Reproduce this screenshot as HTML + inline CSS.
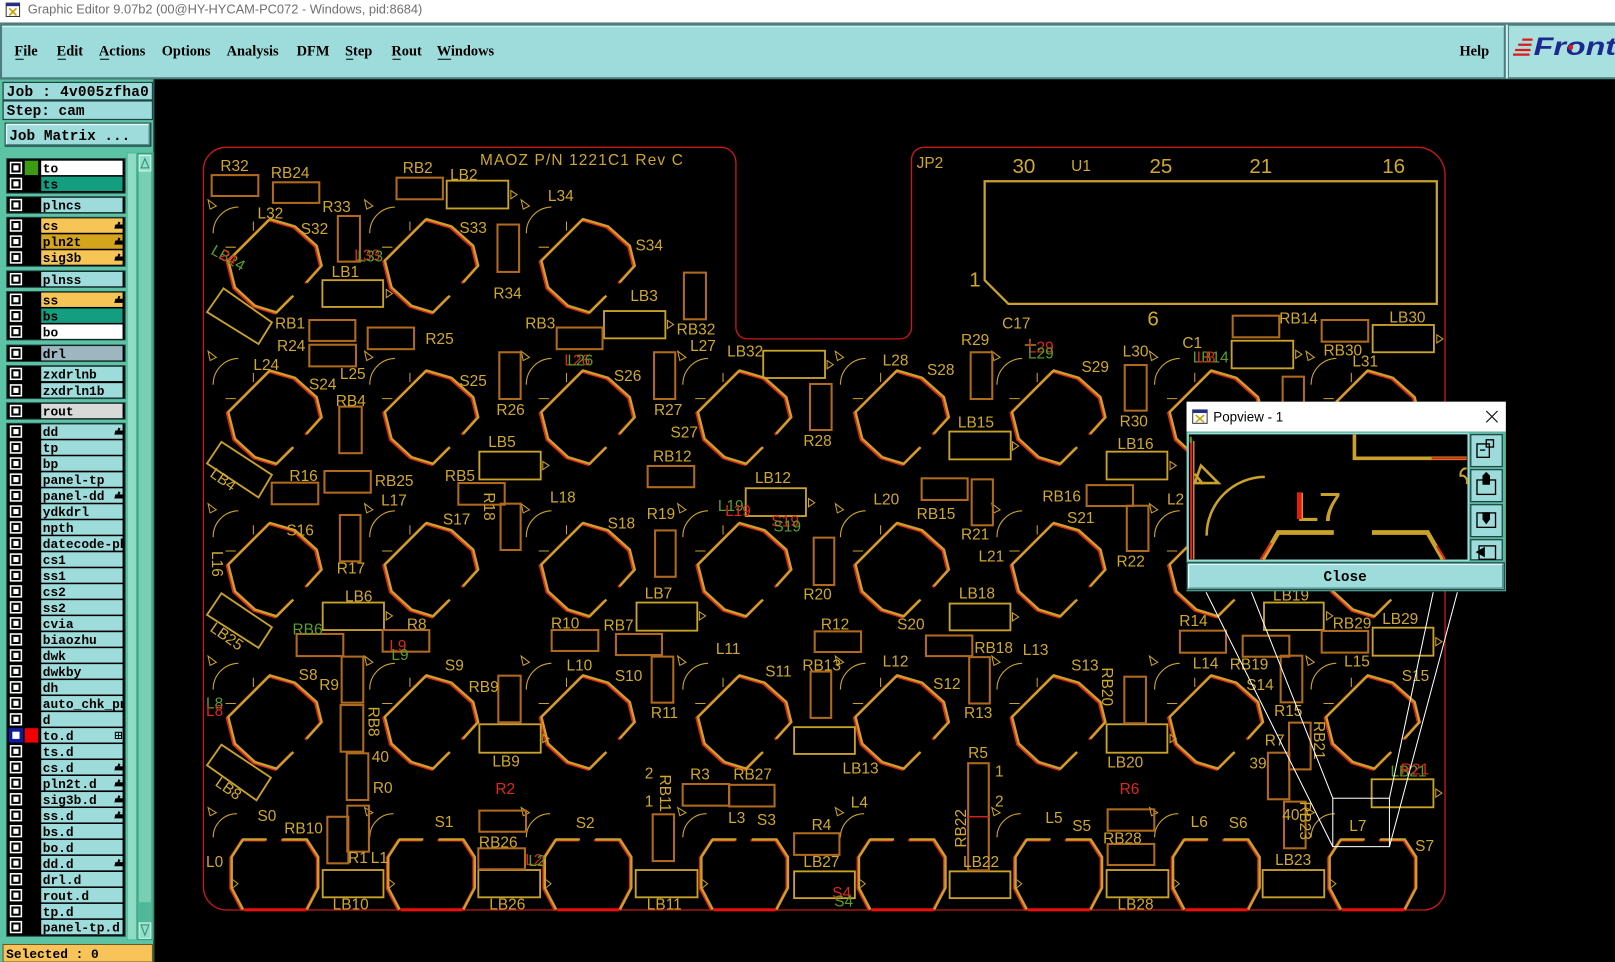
<!DOCTYPE html>
<html><head><meta charset="utf-8">
<style>
html,body{margin:0;padding:0;background:#000;overflow:hidden;width:1615px;height:962px}
svg{display:block}
.m{font-family:"Liberation Serif",serif;font-weight:bold;font-size:14px;fill:#000}
.l{font-family:"Liberation Mono",monospace;font-weight:bold;font-size:12.5px;fill:#000}
.j{font-family:"Liberation Mono",monospace;font-weight:bold;font-size:14px;fill:#000}
.t{font-family:"Liberation Sans",sans-serif;font-size:15px;fill:#d0a82a}
.tb{font-family:"Liberation Sans",sans-serif;font-size:20px;fill:#d0a82a}
.r{fill:#e02818}.g{fill:#58a028}
.ry{fill:none;stroke:#c9a22a;stroke-width:1.8}
.rr{fill:none;stroke:#b06a1e;stroke-width:2}
</style></head><body>
<svg width="1615" height="962" viewBox="0 0 1568 934" preserveAspectRatio="none" xmlns="http://www.w3.org/2000/svg">
<defs>
<g id="oc" fill="none">
<path d="M17.8 29.1 L1.6 45.3 L-19.4 38.8 L-38.8 21 L-45.3 -4.9 L-4.9 -45.3 L19.4 -38.2 L40.5 -19.4 L45.3 0 L30.7 16.2" stroke="#d8281a" stroke-width="2.4" transform="translate(-1.4,0.9)"/>
<path d="M17.8 29.1 L1.6 45.3 L-19.4 38.8 L-38.8 21 L-45.3 -4.9 L-4.9 -45.3 L19.4 -38.2 L40.5 -19.4 L45.3 0 L30.7 16.2" stroke="#caa22a" stroke-width="2.3"/>
<path d="M-60 -31.5 A25 25 0 0 1 -35.6 -57" stroke="#caa22a" stroke-width="1.1"/>
<path d="M-65 -64 L-57 -58 L-63 -55 Z" stroke="#caa22a" stroke-width="1"/>
<path d="M-21 -43 V-34 M-48 -18 H-38" stroke="#caa22a" stroke-width="1"/>
</g>
<g id="ob" fill="none">
<path d="M-8 -35 L-31 -35 L-42 -18 L-42 12 L-31 33 M7 -35 L31 -35 L42 -18 L42 12 L31 33" stroke="#d8281a" stroke-width="2.4" transform="translate(-1.2,0.8)"/>
<path d="M-8 -35 L-31 -35 L-42 -18 L-42 12 L-31 33 M7 -35 L31 -35 L42 -18 L42 12 L31 33" stroke="#caa22a" stroke-width="2.3"/>
<path d="M-30 33.3 L30 33.3" stroke="#e81010" stroke-width="3"/>
<path d="M-60 -37 A23 23 0 0 1 -37 -60" stroke="#caa22a" stroke-width="1.1"/>
<path d="M-65 -66 L-57 -61 L-63 -58 Z" stroke="#caa22a" stroke-width="1"/>
<path d="M-41 4 L-36 8 L-41 12" stroke="#caa22a" stroke-width="1"/>
</g>
<g id="cb"><rect x="0" y="0" width="12" height="12" fill="#fff"/><rect x="2.5" y="2.5" width="7" height="7" fill="#fff" stroke="#000" stroke-width="2"/></g>
<path id="hd" d="M0 7 L1 3 L3 3 L4 0 L6 1 L5 3 L8 3 L8 7 Z" fill="#000"/>
<clipPath id="nc"><rect x="40" y="140" width="79" height="780"/></clipPath>
<clipPath id="fc"><rect x="1465" y="25" width="103" height="50"/></clipPath>
</defs>

<!-- background -->
<rect x="0" y="0" width="1568" height="934" fill="#000"/>
<!-- title bar -->
<rect x="0" y="0" width="1568" height="22" fill="#fff"/>
<rect x="6" y="3" width="13" height="13" fill="#fff" stroke="#334" stroke-width="1"/>
<rect x="6" y="3" width="13" height="3" fill="#23308a"/>
<path d="M9 8 L16 15 M16 8 L9 15" stroke="#c8a000" stroke-width="1.6"/>
<text x="27" y="13" font-family="Liberation Sans,sans-serif" font-size="12.5" fill="#707070" textLength="383">Graphic Editor 9.07b2 (00@HY-HYCAM-PC072 - Windows, pid:8684)</text>

<!-- menu bar -->
<rect x="0" y="22" width="1568" height="55" fill="#4c7c7c"/>
<rect x="2" y="25" width="1458" height="50" fill="#9edbdb"/>
<rect x="2" y="25" width="1458" height="1.5" fill="#c8f0f0"/>
<rect x="1462" y="24" width="2" height="52" fill="#d0f4f4"/>
<rect x="1465" y="25" width="103" height="50" fill="#a8e0e0"/>
<text class="m" x="14" y="54">File</text>
<text class="m" x="55" y="54">Edit</text>
<text class="m" x="96" y="54">Actions</text>
<text class="m" x="157" y="54">Options</text>
<text class="m" x="220" y="54">Analysis</text>
<text class="m" x="288" y="54">DFM</text>
<text class="m" x="335" y="54">Step</text>
<text class="m" x="380" y="54">Rout</text>
<text class="m" x="424" y="54">Windows</text>
<text class="m" x="1417" y="54">Help</text>
<g stroke="#000" stroke-width="1">
<path d="M15 57.5 H23 M56 57.5 H64 M97 57.5 H106 M336 57.5 H343 M381 57.5 H389 M425 57.5 H438"/>
</g>
<!-- Front logo -->
<g stroke="#e01818" stroke-width="2.2">
<path d="M1478 38.5 H1488 M1474 43.5 H1487 M1471 48.5 H1486 M1469 53 H1485"/>
</g>
<g clip-path="url(#fc)">
<text x="1489" y="53.5" font-family="Liberation Sans,sans-serif" font-weight="bold" font-style="italic" font-size="24" fill="#1c2a90" textLength="80" lengthAdjust="spacingAndGlyphs">Front</text>
</g>
<circle cx="1525" cy="46" r="2.4" fill="#e01818"/>

<!-- left panel -->
<rect x="0" y="77" width="150" height="857" fill="#5cc4a4"/>
<rect x="148.5" y="77" width="1.5" height="857" fill="#2d5d50"/>
<rect x="3" y="80" width="145" height="17" fill="#9edbdb" stroke="#1f4545" stroke-width="1.2"/>
<text class="j" x="6.5" y="93" textLength="138">Job : 4v005zfha0</text>
<rect x="3" y="98" width="145" height="18" fill="#9edbdb" stroke="#1f4545" stroke-width="1.2"/>
<text class="j" x="6.5" y="111.5">Step: cam</text>
<rect x="4.5" y="119" width="142.5" height="23.5" fill="#1f4545"/>
<rect x="6" y="120.5" width="139.5" height="20.5" fill="#9edbdb"/>
<path d="M6 120.8 H145.5 M6.3 120.5 V141" stroke="#e0fafa" stroke-width="1.5"/>
<path d="M6 140.5 H145.5 M145 120.5 V141" stroke="#4e8a8a" stroke-width="1.5"/>
<text class="j" x="9" y="136">Job Matrix ...</text>

<!-- scrollbar -->
<rect x="123" y="148" width="26" height="765" fill="#4fb898"/>
<rect x="124" y="149" width="8" height="763" fill="#8edcc4"/>
<rect x="134" y="149" width="13.5" height="763" fill="#78d0b4" stroke="#3a9a80" stroke-width="1"/>
<rect x="135" y="151" width="11.5" height="15" fill="#8ee0c8" stroke="#e0fff4" stroke-width="0.8"/>
<path d="M137 163 L140.7 154 L144.5 163 Z" fill="none" stroke="#3a8a70" stroke-width="1"/>
<rect x="135" y="876" width="11.5" height="20" fill="#4fb898"/>
<rect x="135" y="896" width="11.5" height="15" fill="#8ee0c8" stroke="#e0fff4" stroke-width="0.8"/>
<path d="M137 898 L140.7 908 L144.5 898 Z" fill="none" stroke="#3a8a70" stroke-width="1"/>

<!-- group boxes -->
<g fill="#000" stroke="#1f4545" stroke-width="1">
<rect x="6.5" y="154" width="115" height="33.5"/>
<rect x="6.5" y="191" width="115" height="16"/>
<rect x="6.5" y="211" width="115" height="47.5"/>
<rect x="6.5" y="263" width="115" height="16"/>
<rect x="6.5" y="283" width="115" height="47"/>
<rect x="6.5" y="335" width="115" height="16"/>
<rect x="6.5" y="355" width="115" height="32"/>
<rect x="6.5" y="391" width="115" height="16"/>
<rect x="6.5" y="411" width="115" height="498"/>
</g>
<!-- name boxes -->
<g>
<rect x="40" y="156" width="79" height="14" fill="#fff"/>
<rect x="40" y="171.5" width="79" height="14" fill="#139e80"/>
<rect x="40" y="192" width="79" height="14" fill="#9edbdb"/>
<rect x="40" y="212" width="79" height="14" fill="#f7c555"/>
<rect x="40" y="227.5" width="79" height="14" fill="#d4a51c"/>
<rect x="40" y="243" width="79" height="14" fill="#f7c555"/>
<rect x="40" y="264" width="79" height="14" fill="#9edbdb"/>
<rect x="40" y="284" width="79" height="14" fill="#f7c555"/>
<rect x="40" y="299.5" width="79" height="14" fill="#139e80"/>
<rect x="40" y="315" width="79" height="14" fill="#fff"/>
<rect x="40" y="336" width="79" height="14" fill="#9db6bf"/>
<rect x="40" y="356" width="79" height="14" fill="#9edbdb"/>
<rect x="40" y="372" width="79" height="14" fill="#9edbdb"/>
<rect x="40" y="392" width="79" height="14" fill="#d9d9d9"/>
</g>
<g fill="#9edbdb">
<rect x="40" y="412" width="79" height="14"/><rect x="40" y="427.5" width="79" height="14"/><rect x="40" y="443" width="79" height="14"/><rect x="40" y="458.6" width="79" height="14"/>
<rect x="40" y="474.1" width="79" height="14"/><rect x="40" y="489.6" width="79" height="14"/><rect x="40" y="505.1" width="79" height="14"/><rect x="40" y="520.6" width="79" height="14"/>
<rect x="40" y="536.2" width="79" height="14"/><rect x="40" y="551.7" width="79" height="14"/><rect x="40" y="567.2" width="79" height="14"/><rect x="40" y="582.7" width="79" height="14"/>
<rect x="40" y="598.2" width="79" height="14"/><rect x="40" y="613.8" width="79" height="14"/><rect x="40" y="629.3" width="79" height="14"/><rect x="40" y="644.8" width="79" height="14"/>
<rect x="40" y="660.3" width="79" height="14"/><rect x="40" y="675.8" width="79" height="14"/><rect x="40" y="691.4" width="79" height="14"/><rect x="40" y="706.9" width="79" height="14"/>
<rect x="40" y="722.4" width="79" height="14"/><rect x="40" y="737.9" width="79" height="14"/><rect x="40" y="753.4" width="79" height="14"/><rect x="40" y="769" width="79" height="14"/>
<rect x="40" y="784.5" width="79" height="14"/><rect x="40" y="800" width="79" height="14"/><rect x="40" y="815.5" width="79" height="14"/><rect x="40" y="831" width="79" height="14"/>
<rect x="40" y="846.6" width="79" height="14"/><rect x="40" y="862.1" width="79" height="14"/><rect x="40" y="877.6" width="79" height="14"/><rect x="40" y="893.1" width="79" height="14"/>
</g>
<!-- swatches -->
<rect x="24" y="156" width="13" height="14" fill="#3c9a14"/>
<rect x="24" y="707" width="13" height="14" fill="#f00000"/>
<!-- checkboxes -->
<g>
<use href="#cb" x="9.5" y="157"/><use href="#cb" x="9.5" y="172.5"/><use href="#cb" x="9.5" y="193"/>
<use href="#cb" x="9.5" y="213"/><use href="#cb" x="9.5" y="228.5"/><use href="#cb" x="9.5" y="244"/>
<use href="#cb" x="9.5" y="265"/><use href="#cb" x="9.5" y="285"/><use href="#cb" x="9.5" y="300.5"/>
<use href="#cb" x="9.5" y="316"/><use href="#cb" x="9.5" y="337"/><use href="#cb" x="9.5" y="357"/>
<use href="#cb" x="9.5" y="373"/><use href="#cb" x="9.5" y="393"/>
<use href="#cb" x="9.5" y="413"/><use href="#cb" x="9.5" y="428.5"/><use href="#cb" x="9.5" y="444"/><use href="#cb" x="9.5" y="459.6"/>
<use href="#cb" x="9.5" y="475.1"/><use href="#cb" x="9.5" y="490.6"/><use href="#cb" x="9.5" y="506.1"/><use href="#cb" x="9.5" y="521.6"/>
<use href="#cb" x="9.5" y="537.2"/><use href="#cb" x="9.5" y="552.7"/><use href="#cb" x="9.5" y="568.2"/><use href="#cb" x="9.5" y="583.7"/>
<use href="#cb" x="9.5" y="599.2"/><use href="#cb" x="9.5" y="614.8"/><use href="#cb" x="9.5" y="630.3"/><use href="#cb" x="9.5" y="645.8"/>
<use href="#cb" x="9.5" y="661.3"/><use href="#cb" x="9.5" y="676.8"/><use href="#cb" x="9.5" y="692.4"/>
<use href="#cb" x="9.5" y="723.4"/><use href="#cb" x="9.5" y="738.9"/><use href="#cb" x="9.5" y="754.4"/><use href="#cb" x="9.5" y="770"/>
<use href="#cb" x="9.5" y="785.5"/><use href="#cb" x="9.5" y="801"/><use href="#cb" x="9.5" y="816.5"/><use href="#cb" x="9.5" y="832"/>
<use href="#cb" x="9.5" y="847.6"/><use href="#cb" x="9.5" y="863.1"/><use href="#cb" x="9.5" y="878.6"/><use href="#cb" x="9.5" y="894.1"/>
</g>
<rect x="8.5" y="706.9" width="14" height="14" fill="#1018a0"/>
<rect x="12" y="710.4" width="7" height="7" fill="#fff"/>
<!-- hand icons -->
<g>
<use href="#hd" x="111" y="215"/><use href="#hd" x="111" y="230.5"/><use href="#hd" x="111" y="246"/><use href="#hd" x="111" y="287"/>
<use href="#hd" x="111" y="415"/><use href="#hd" x="111" y="477"/><use href="#hd" x="111" y="741"/><use href="#hd" x="111" y="756.5"/>
<use href="#hd" x="111" y="772"/><use href="#hd" x="111" y="787.5"/><use href="#hd" x="111" y="834"/>
</g>
<rect x="112" y="711" width="6" height="6" fill="none" stroke="#000" stroke-width="1"/>
<path d="M115 711 V717 M112 714 H118" stroke="#000" stroke-width="0.8"/>
<!-- layer names -->
<g class="l" clip-path="url(#nc)">
<text class="l" x="41.5" y="167.5">to</text>
<text class="l" x="41.5" y="183">ts</text>
<text class="l" x="41.5" y="203.5">plncs</text>
<text class="l" x="41.5" y="223.5">cs</text>
<text class="l" x="41.5" y="239">pln2t</text>
<text class="l" x="41.5" y="254.5">sig3b</text>
<text class="l" x="41.5" y="275.5">plnss</text>
<text class="l" x="41.5" y="295.5">ss</text>
<text class="l" x="41.5" y="311">bs</text>
<text class="l" x="41.5" y="326.5">bo</text>
<text class="l" x="41.5" y="347.5">drl</text>
<text class="l" x="41.5" y="367.5">zxdrlnb</text>
<text class="l" x="41.5" y="383.5">zxdrln1b</text>
<text class="l" x="41.5" y="403.5">rout</text>
<text class="l" x="41.5" y="423.5">dd</text>
<text class="l" x="41.5" y="439">tp</text>
<text class="l" x="41.5" y="454.5">bp</text>
<text class="l" x="41.5" y="470.1">panel-tp</text>
<text class="l" x="41.5" y="485.6">panel-dd</text>
<text class="l" x="41.5" y="501.1">ydkdrl</text>
<text class="l" x="41.5" y="516.6">npth</text>
<text class="l" x="41.5" y="532.1">datecode-pbe</text>
<text class="l" x="41.5" y="547.7">cs1</text>
<text class="l" x="41.5" y="563.2">ss1</text>
<text class="l" x="41.5" y="578.7">cs2</text>
<text class="l" x="41.5" y="594.2">ss2</text>
<text class="l" x="41.5" y="609.7">cvia</text>
<text class="l" x="41.5" y="625.3">biaozhu</text>
<text class="l" x="41.5" y="640.8">dwk</text>
<text class="l" x="41.5" y="656.3">dwkby</text>
<text class="l" x="41.5" y="671.8">dh</text>
<text class="l" x="41.5" y="687.3">auto_chk_pnl</text>
<text class="l" x="41.5" y="702.9">d</text>
<text class="l" x="41.5" y="718.4">to.d</text>
<text class="l" x="41.5" y="733.9">ts.d</text>
<text class="l" x="41.5" y="749.4">cs.d</text>
<text class="l" x="41.5" y="764.9">pln2t.d</text>
<text class="l" x="41.5" y="780.5">sig3b.d</text>
<text class="l" x="41.5" y="796">ss.d</text>
<text class="l" x="41.5" y="811.5">bs.d</text>
<text class="l" x="41.5" y="827">bo.d</text>
<text class="l" x="41.5" y="842.5">dd.d</text>
<text class="l" x="41.5" y="858.1">drl.d</text>
<text class="l" x="41.5" y="873.6">rout.d</text>
<text class="l" x="41.5" y="889.1">tp.d</text>
<text class="l" x="41.5" y="904.6">panel-tp.d</text>
</g>
<!-- selected -->
<rect x="3" y="917" width="145" height="17" fill="#f8c45a" stroke="#6a5a20" stroke-width="1"/>
<text class="l" x="6" y="930">Selected : 0</text>

<!-- BOARD OUTLINE -->
<path d="M197.5 165 A22 22 0 0 1 219.5 143 L700 143 A14.5 14.5 0 0 1 714.5 157.5 L714.5 318 A11 11 0 0 0 725.5 329 L874 329 A11 11 0 0 0 885 318 L885 155 A12 12 0 0 1 897 143 L1376 143 A27 27 0 0 1 1403 170 L1403 862 A21 21 0 0 1 1382 883.5 L220 883.5 A22.5 22.5 0 0 1 197.5 861 Z" fill="none" stroke="#c81818" stroke-width="1.3"/>

<!-- U1 -->
<path d="M956 176 H1395 V295 H979 L956 272 Z" fill="none" stroke="#caa22a" stroke-width="2.2"/>

<!-- octagons -->
<g>
<use href="#oc" x="267" y="258"/><use href="#oc" x="419" y="258"/><use href="#oc" x="571" y="258"/>
<use href="#oc" x="267" y="405"/><use href="#oc" x="419" y="405"/><use href="#oc" x="571" y="405"/><use href="#oc" x="723" y="405"/>
<use href="#oc" x="876" y="405"/><use href="#oc" x="1028" y="405"/><use href="#oc" x="1181" y="405"/><use href="#oc" x="1333" y="405"/>
<use href="#oc" x="267" y="553"/><use href="#oc" x="419" y="553"/><use href="#oc" x="571" y="553"/><use href="#oc" x="723" y="553"/>
<use href="#oc" x="876" y="553"/><use href="#oc" x="1028" y="553"/><use href="#oc" x="1181" y="553"/><use href="#oc" x="1333" y="553"/>
<use href="#oc" x="267" y="701"/><use href="#oc" x="419" y="701"/><use href="#oc" x="571" y="701"/><use href="#oc" x="723" y="701"/>
<use href="#oc" x="876" y="701"/><use href="#oc" x="1028" y="701"/><use href="#oc" x="1181" y="701"/><use href="#oc" x="1333" y="701"/>
<use href="#ob" x="267" y="850"/><use href="#ob" x="419" y="850"/><use href="#ob" x="571" y="850"/><use href="#ob" x="723" y="850"/>
<use href="#ob" x="876" y="850"/><use href="#ob" x="1028" y="850"/><use href="#ob" x="1181" y="850"/><use href="#ob" x="1333" y="850"/>
</g>

<!-- LB rects (yellow) -->
<g class="ry">
<rect x="433.7" y="175.4" width="59.8" height="27"/><rect x="313" y="272" width="59" height="26"/>
<rect x="586.4" y="302" width="59.6" height="26.5"/><rect x="465.4" y="438.5" width="59.6" height="27"/>
<rect x="741" y="340.5" width="60" height="26.5"/><rect x="921.7" y="419" width="59.6" height="27"/>
<rect x="1074.4" y="438.5" width="59" height="27"/><rect x="724" y="474" width="58.5" height="27"/>
<rect x="1195.8" y="330.8" width="59.8" height="26.8"/><rect x="1332.7" y="315.5" width="59.5" height="26.5"/>
<rect x="313.3" y="585" width="59.5" height="26.7"/><rect x="465.4" y="703.2" width="59.6" height="27.6"/>
<rect x="618" y="585" width="59" height="27.3"/><rect x="922" y="586" width="59" height="26"/>
<rect x="771" y="706" width="59" height="26"/><rect x="1227.2" y="585" width="58" height="26.7"/>
<rect x="1332.7" y="609.4" width="59" height="27.2"/><rect x="1074.4" y="703.2" width="59" height="27.6"/>
<rect x="1331.7" y="756.6" width="60" height="27.2"/><rect x="313.3" y="844.7" width="59" height="26.5"/>
<rect x="464.4" y="844.7" width="60" height="26.5"/><rect x="617.2" y="844.7" width="60" height="26.5"/>
<rect x="771" y="846" width="59" height="26"/><rect x="922" y="846" width="59" height="26"/>
<rect x="1074.4" y="844.7" width="60" height="26.5"/><rect x="1225.9" y="844.7" width="59.8" height="26.5"/>
<polygon points="217,280 264,313 251,334 201,303"/><polygon points="215,429 264,461 251,483 201,450"/>
<polygon points="215,576 264,609 251,629 201,597"/><polygon points="215,723 263,755 249,777 201,743"/>
</g>
<!-- markers -->
<g fill="none" stroke="#caa22a" stroke-width="1">
<path d="M496 185 l6 4 l-6 4 z M375 281 l6 4 l-6 4 z M648 311 l6 4 l-6 4 z M527 448 l6 4 l-6 4 z M803 350 l6 4 l-6 4 z M983 429 l6 4 l-6 4 z M1136 448 l6 4 l-6 4 z M785 484 l6 4 l-6 4 z M1258 340 l6 4 l-6 4 z M1395 325 l6 4 l-6 4 z M375 594 l6 4 l-6 4 z M527 713 l6 4 l-6 4 z M679 594 l6 4 l-6 4 z M983 595 l6 4 l-6 4 z M1136 713 l6 4 l-6 4 z M1288 594 l6 4 l-6 4 z M1394 619 l6 4 l-6 4 z M1394 766 l6 4 l-6 4 z"/>
</g>
<!-- R rects -->
<g class="rr">
<rect x="205.5" y="170" width="45.3" height="20.3"/><rect x="265" y="177" width="45" height="20"/>
<rect x="385" y="172.5" width="45" height="21"/><rect x="328" y="209.7" width="21.5" height="44.3"/>
<rect x="483" y="218" width="21" height="46"/><rect x="664" y="264.7" width="21.4" height="45.3"/>
<rect x="540.5" y="318" width="44.5" height="21"/><rect x="300.3" y="310.7" width="44.7" height="20.3"/>
<rect x="300.3" y="334.7" width="45.3" height="21"/><rect x="357" y="318" width="45" height="21"/>
<rect x="484.8" y="342" width="20.7" height="45.4"/><rect x="635" y="342" width="20.6" height="45.4"/>
<rect x="329.4" y="394.8" width="21.8" height="45.2"/><rect x="628.8" y="452.4" width="45.2" height="20.6"/>
<rect x="263.8" y="468.6" width="45.2" height="21"/><rect x="315" y="457.3" width="45" height="21"/>
<rect x="445" y="469" width="45" height="21"/><rect x="486" y="489" width="19.5" height="45"/>
<rect x="330" y="500" width="20" height="45"/><rect x="636" y="515" width="20" height="45"/>
<rect x="790" y="522" width="20" height="46"/><rect x="786.4" y="372.8" width="21" height="44.7"/>
<rect x="942.4" y="342" width="21" height="45.4"/><rect x="1092" y="354.4" width="21.3" height="44.3"/>
<rect x="894.8" y="464.4" width="44.7" height="21"/><rect x="943.4" y="465.4" width="20.6" height="44.6"/>
<rect x="1055" y="471" width="45" height="20.3"/><rect x="1094" y="491" width="21" height="44"/>
<rect x="1196.8" y="306.5" width="45.2" height="21"/><rect x="1283.2" y="310.7" width="45.2" height="21"/>
<rect x="1245.3" y="365.7" width="20.7" height="44"/>
<rect x="288" y="615.5" width="45.3" height="21.5"/><rect x="371.5" y="611.7" width="45.3" height="21"/>
<rect x="331.7" y="637.5" width="21" height="44.7"/><rect x="330.7" y="684.5" width="22" height="45.3"/>
<rect x="336.6" y="731.4" width="21" height="45.3"/><rect x="337.2" y="782.2" width="21" height="44.7"/>
<rect x="317.8" y="793" width="20.4" height="45.2"/><rect x="483.8" y="656" width="21.7" height="45.3"/>
<rect x="535.6" y="611.7" width="45.3" height="20.3"/><rect x="598" y="615.5" width="44.7" height="20.5"/>
<rect x="632.7" y="637.5" width="21" height="44.7"/><rect x="465.4" y="787" width="45.3" height="20.5"/>
<rect x="464.4" y="823.6" width="45.3" height="20.4"/><rect x="662.8" y="761.2" width="45" height="21"/>
<rect x="708" y="762" width="44" height="21"/><rect x="633.7" y="790.6" width="20.7" height="45.4"/>
<rect x="791" y="613" width="45" height="20"/><rect x="787" y="652" width="20" height="45"/>
<rect x="899" y="617" width="45" height="20"/><rect x="941" y="638" width="20" height="45"/>
<rect x="771" y="809" width="44" height="21"/><rect x="940" y="741" width="20" height="104"/>
<rect x="1145.6" y="612.3" width="44.7" height="21.4"/><rect x="1206.5" y="617.2" width="45.3" height="20.4"/>
<rect x="1283.2" y="612.6" width="45.2" height="21"/><rect x="1243.4" y="636.6" width="21" height="45.3"/>
<rect x="1091.6" y="657" width="21" height="45.2"/><rect x="1251.5" y="701.6" width="21" height="45.4"/>
<rect x="1231" y="730.8" width="20.8" height="45.2"/><rect x="1246.6" y="778.3" width="21" height="45.3"/>
<rect x="1075.4" y="785.8" width="45.3" height="20.7"/><rect x="1075.4" y="819.4" width="45.3" height="20.4"/>
</g>
<path d="M940 793 H960" stroke="#d02020" stroke-width="1.5"/>
<path d="M995 335 H1006 M1000 329 V340" stroke="#c9a22a" stroke-width="1.2"/>

<!-- board labels -->
<text class="t" x="466" y="160" textLength="197">MAOZ P/N 1221C1 Rev C</text>
<text class="tb" x="983" y="168">30</text><text class="t" x="1040" y="166">U1</text>
<text class="tb" x="1116" y="168">25</text><text class="tb" x="1213" y="168">21</text><text class="tb" x="1342" y="168">16</text>
<text class="t" x="890" y="163">JP2</text><text class="tb" x="941" y="278">1</text><text class="tb" x="1114" y="316">6</text>
<g class="t">
<text x="214" y="166">R32</text><text x="263" y="173">RB24</text><text x="391" y="168">RB2</text><text x="437" y="175">LB2</text>
<text x="532" y="195">L34</text><text x="250" y="212">L32</text><text x="313" y="206">R33</text><text x="292" y="227">S32</text>
<text x="446" y="226">S33</text><text x="617" y="243">S34</text><text x="322" y="269">LB1</text><text x="479" y="290">R34</text>
<text x="612" y="292">LB3</text><text x="657" y="325">RB32</text><text x="670" y="341">L27</text><text x="510" y="319">RB3</text>
<text x="267" y="319">RB1</text><text x="269" y="341">R24</text><text x="413" y="334">R25</text><text x="246" y="359">L24</text>
<text x="330" y="368">L25</text><text x="300" y="378">S24</text><text x="446" y="375">S25</text><text x="596" y="370">S26</text>
<text x="482" y="403">R26</text><text x="635" y="403">R27</text><text x="651" y="425">S27</text><text x="326" y="394">RB4</text>
<text x="474" y="434">LB5</text><text x="634" y="448">RB12</text><text x="432" y="467">RB5</text><text x="281" y="467">R16</text>
<text x="364" y="472">RB25</text><text x="370" y="491">L17</text><text x="430" y="509">S17</text><text x="534" y="488">L18</text>
<text x="590" y="513">S18</text><text x="628" y="504">R19</text><text x="733" y="469">LB12</text><text x="780" y="582">R20</text>
<text x="848" y="490">L20</text><text x="890" y="504">RB15</text><text x="933" y="524">R21</text><text x="950" y="545">L21</text>
<text x="1012" y="487">RB16</text><text x="1036" y="508">S21</text><text x="1084" y="550">R22</text><text x="1133" y="490">L2</text>
<text x="278" y="520">S16</text><text x="327" y="557">R17</text><text x="335" y="584">LB6</text><text x="395" y="611">R8</text>
<text x="290" y="660">S8</text><text x="310" y="670">R9</text><text x="432" y="651">S9</text><text x="455" y="672">RB9</text>
<text x="535" y="610">R10</text><text x="586" y="612">RB7</text><text x="626" y="581">LB7</text><text x="550" y="651">L10</text>
<text x="597" y="661">S10</text><text x="632" y="697">R11</text><text x="695" y="635">L11</text><text x="797" y="611">R12</text>
<text x="871" y="611">S20</text><text x="931" y="581">LB18</text><text x="779" y="651">RB13</text><text x="743" y="657">S11</text>
<text x="857" y="647">L12</text><text x="906" y="669">S12</text><text x="946" y="634">RB18</text><text x="993" y="636">L13</text>
<text x="936" y="697">R13</text><text x="1040" y="651">S13</text><text x="1075" y="745">LB20</text><text x="818" y="751">LB13</text>
<text x="478" y="744">LB9</text><text x="361" y="740">40</text><text x="362" y="770">R0</text><text x="1145" y="608">R14</text>
<text x="1158" y="649">L14</text><text x="1194" y="650">RB19</text><text x="1210" y="670">S14</text><text x="1236" y="583">LB19</text>
<text x="1294" y="610">RB29</text><text x="1342" y="606">LB29</text><text x="1305" y="647">L15</text><text x="1361" y="661">S15</text>
<text x="1237" y="695">R15</text><text x="1228" y="724">R7</text><text x="1213" y="746">39</text><text x="1245" y="796">40</text>
<text x="1310" y="807">L7</text><text x="1374" y="826">S7</text><text x="1238" y="840">LB23</text><text x="1156" y="803">L6</text>
<text x="1193" y="804">S6</text><text x="1071" y="819">RB28</text><text x="1085" y="883">LB28</text><text x="1041" y="807">S5</text>
<text x="1015" y="799">L5</text><text x="940" y="736">R5</text><text x="966" y="754">1</text><text x="966" y="783">2</text>
<text x="935" y="842">LB22</text><text x="826" y="784">L4</text><text x="788" y="806">R4</text><text x="780" y="842">LB27</text>
<text x="707" y="799">L3</text><text x="735" y="801">S3</text><text x="670" y="757">R3</text><text x="712" y="757">RB27</text>
<text x="626" y="756">2</text><text x="626" y="783">1</text><text x="628" y="883">LB11</text><text x="559" y="804">S2</text>
<text x="465" y="823">RB26</text><text x="475" y="883">LB26</text><text x="422" y="803">S1</text><text x="338" y="838">R1</text>
<text x="360" y="838">L1</text><text x="323" y="883">LB10</text><text x="276" y="809">RB10</text><text x="200" y="842">L0</text>
<text x="250" y="797">S0</text><text x="973" y="319">C17</text><text x="933" y="335">R29</text><text x="706" y="346">LB32</text>
<text x="780" y="433">R28</text><text x="857" y="355">L28</text><text x="900" y="364">S28</text><text x="1050" y="361">S29</text>
<text x="1090" y="346">L30</text><text x="1087" y="414">R30</text><text x="1148" y="338">C1</text><text x="930" y="415">LB15</text>
<text x="1085" y="436">LB16</text><text x="1242" y="314">RB14</text><text x="1285" y="345">RB30</text><text x="1349" y="313">LB30</text>
<text x="1313" y="356">L31</text>
<text transform="translate(470,478) rotate(90)">R18</text>
<text transform="translate(358,686) rotate(90)">RB8</text>
<text transform="translate(641,752) rotate(90)">RB11</text>
<text transform="translate(1070,648) rotate(90)">RB20</text>
<text transform="translate(1276,700) rotate(90)">RB21</text>
<text transform="translate(938,823) rotate(-90)">RB22</text>
<text transform="translate(1262,778) rotate(90)">RB23</text>
<text transform="translate(206,535) rotate(90)">L16</text>
<text transform="translate(203,462) rotate(35)">LB4</text>
<text transform="translate(203,612) rotate(35)">LB25</text>
<text transform="translate(208,762) rotate(35)">LB8</text>
</g>
<g class="t">
<text class="t g" x="204" y="246" transform="rotate(30 204 246)">LB24</text>
<text class="t r" x="212" y="250" transform="rotate(30 212 250)">24</text>
<text class="t r" x="344" y="253">L33</text><text class="t g" x="347" y="254">L33</text>
<text class="t r" x="548" y="355">L26</text><text class="t g" x="551" y="355">L26</text>
<text class="t g" x="697" y="496">L19</text><text class="t r" x="704" y="501">L19</text>
<text class="t r" x="749" y="511">S19</text><text class="t g" x="751" y="516">S19</text>
<text class="t g" x="284" y="616">RB6</text>
<text class="t r" x="378" y="632">L9</text><text class="t g" x="380" y="641">L9</text>
<text class="t g" x="200" y="688">L8</text><text class="t r" x="200" y="695">L8</text>
<text class="t g" x="1350" y="754">LB21</text><text class="t r" x="1360" y="752">R21</text>
<text class="t r" x="1087" y="771">R6</text>
<text class="t r" x="808" y="872">S4</text><text class="t g" x="810" y="880">S4</text>
<text class="t r" x="481" y="771">R2</text>
<text class="t r" x="510" y="840">L2</text><text class="t g" x="513" y="841">L2</text>
<text class="t r" x="998" y="342">L29</text><text class="t g" x="998" y="348">L29</text>
<text class="t g" x="1158" y="352">LB14</text><text class="t r" x="1162" y="352">LB</text>
</g>

<!-- zoom indicator lines -->
<g stroke="#fff" stroke-width="1" fill="none">
<path d="M1171 575 L1294 822 M1215 575 L1294 775 M1391.5 575 L1349 775 M1415 575 L1349 822"/>
<rect x="1294" y="775" width="55" height="47"/>
</g>

<!-- POPUP -->
<rect x="1152" y="390" width="310" height="184" fill="#2e6a5c"/>
<rect x="1152" y="390" width="310" height="29" fill="#fff"/>
<rect x="1158" y="398" width="14" height="13" fill="#fff" stroke="#334" stroke-width="1"/>
<rect x="1158" y="398" width="14" height="3" fill="#23308a"/>
<path d="M1161 403 L1169 410 M1169 403 L1161 410" stroke="#c8a000" stroke-width="1.5"/>
<text x="1178" y="409" font-family="Liberation Sans,sans-serif" font-size="13" fill="#000">Popview - 1</text>
<path d="M1443 399 L1454 410 M1454 399 L1443 410" stroke="#222" stroke-width="1.2"/>
<rect x="1152" y="419" width="310" height="155" fill="#5cb8a0"/>
<rect x="1153.5" y="421" width="272" height="123" fill="#000" stroke="#9edbdb" stroke-width="1.5"/>
<!-- view content -->
<path d="M1156.5 426 V543" stroke="#e02818" stroke-width="2"/>
<path d="M1159 428 V543" stroke="#c9881a" stroke-width="1.5"/>
<path d="M1156 424 V430" stroke="#58a028" stroke-width="2"/>
<path d="M1315 422 V445 H1424" fill="none" stroke="#caa22a" stroke-width="3.5"/>
<path d="M1390 445 H1424" stroke="#d8281a" stroke-width="2"/>
<path d="M1166 452 L1183 469 L1160 469 Z M1160 460 L1168 470" fill="none" stroke="#caa22a" stroke-width="2.5"/>
<path d="M1171.5 520 A57 57 0 0 1 1228 463" fill="none" stroke="#caa22a" stroke-width="2.5"/>
<text x="1258" y="506" font-family="Liberation Sans,sans-serif" font-size="40" fill="#caa22a">L7</text>
<path d="M1261.5 478 V504" stroke="#e81a10" stroke-width="4.5"/>
<path d="M1226 543 L1241 517 H1295 M1332 517 H1386 L1401 543" fill="none" stroke="#caa22a" stroke-width="4.5"/>
<path d="M1224 543 L1234 527 M1403 543 L1395 530" stroke="#e02818" stroke-width="2"/>
<path d="M1424 455 A5 6 0 0 0 1418 462 A5 6 0 0 1 1424 470" fill="none" stroke="#caa22a" stroke-width="2"/>
<!-- right buttons -->
<g fill="#9edbdb" stroke="#1f4545" stroke-width="1.2">
<rect x="1428" y="422" width="30.5" height="31"/>
<rect x="1428" y="456" width="30.5" height="31"/>
<rect x="1428" y="490" width="30.5" height="31"/>
<rect x="1428" y="524" width="30.5" height="19.5"/>
</g>
<g fill="none" stroke="#000" stroke-width="1.3">
<rect x="1434" y="431" width="12" height="13"/><rect x="1443" y="427" width="7" height="7"/>
<path d="M1437 437 H1442"/>
<rect x="1434" y="466" width="18" height="14"/><path d="M1440 470 V462 L1443 459 L1446 462 V470 Z" fill="#000"/>
<rect x="1434" y="498" width="18" height="14"/><path d="M1440 504 V498 H1446 V504 L1443 508 Z" fill="#000"/>
<rect x="1436" y="530" width="16" height="13"/><path d="M1434 536 L1441 532 V540 Z" fill="#000"/>
</g>
<!-- close -->
<rect x="1152.5" y="546.5" width="308" height="26" fill="#9edbdb" stroke="#1f4545" stroke-width="1.2"/>
<path d="M1154 548 H1459 M1154 548 V571" stroke="#e0fafa" stroke-width="1.2"/>
<path d="M1154 571 H1459 M1459 548 V571" stroke="#4e8a8a" stroke-width="1.2"/>
<text class="j" x="1306" y="564" text-anchor="middle">Close</text>
</svg>
</body></html>
